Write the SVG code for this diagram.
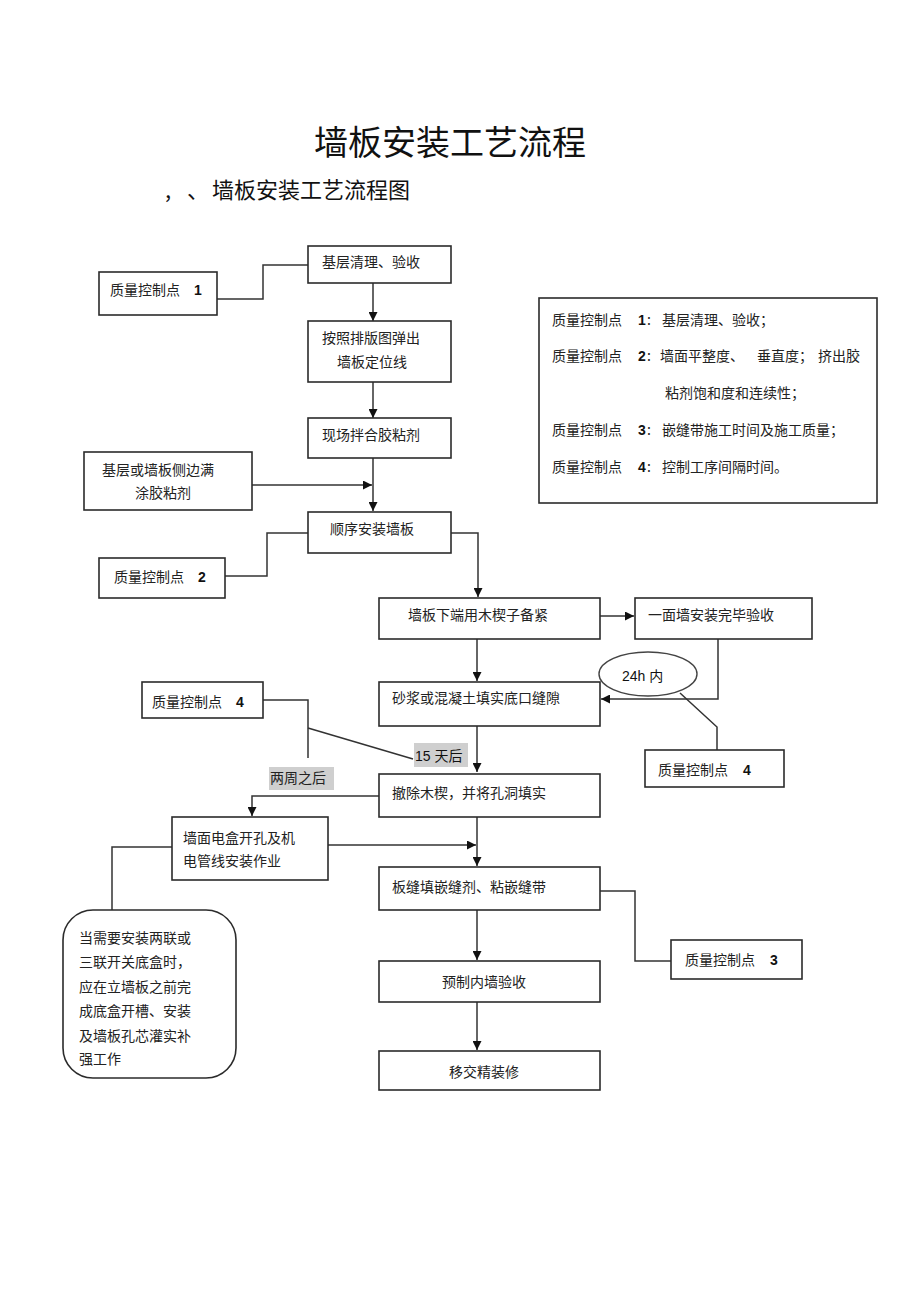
<svg xmlns="http://www.w3.org/2000/svg" width="920" height="1303" viewBox="0 0 920 1303">
<style>
.bx{fill:#fff;stroke:#2b2b2b;stroke-width:1.6}
.ln{fill:none;stroke:#333;stroke-width:1.5}
.t{font-family:"Noto Sans CJK SC","Noto Sans",sans-serif;font-size:14px;fill:#222}
.n{font-family:"Liberation Sans",Arial,sans-serif;font-size:14px;font-weight:bold;fill:#111}
.hl{fill:#cfcfcf}
</style>
<defs>
<marker id="ar" viewBox="0 0 10 10" refX="10" refY="5" markerWidth="9" markerHeight="9" markerUnits="userSpaceOnUse" orient="auto"><path d="M0,0L10,5L0,10z" fill="#111"/></marker>
</defs>
<rect width="920" height="1303" fill="#fff"/>
<text x="450" y="155" text-anchor="middle" font-family="Noto Sans CJK SC,sans-serif" font-size="34" fill="#111">墙板安装工艺流程</text>
<text x="165" y="198" font-family="Noto Sans CJK SC,sans-serif" font-size="22" fill="#111">,</text>
<text x="187" y="198" font-family="Noto Sans CJK SC,sans-serif" font-size="22" fill="#111">、</text>
<text x="212" y="198" font-family="Noto Sans CJK SC,sans-serif" font-size="22" fill="#111">墙板安装工艺流程图</text>

<g id="connectors">
<path class="ln" d="M217,299H263V265H308"/>
<path class="ln" d="M373,283V321" marker-end="url(#ar)"/>
<path class="ln" d="M373,382V418" marker-end="url(#ar)"/>
<path class="ln" d="M373,458V511" marker-end="url(#ar)"/>
<path class="ln" d="M252,485H372" marker-end="url(#ar)"/>
<path class="ln" d="M225,576H267V533H308"/>
<path class="ln" d="M451,533H478V597" marker-end="url(#ar)"/>
<path class="ln" d="M600,616H634" marker-end="url(#ar)"/>
<path class="ln" d="M477,639V681" marker-end="url(#ar)"/>
<path class="ln" d="M718,639V699H601" marker-end="url(#ar)"/>
<path class="ln" d="M680,693L717,727V750"/>
<path class="ln" d="M477,726V772" marker-end="url(#ar)"/>
<path class="ln" d="M263,700H308V758"/>
<path class="ln" d="M308,728L413,759"/>
<path class="ln" d="M379,796H252V816" marker-end="url(#ar)"/>
<path class="ln" d="M327,845H476" marker-end="url(#ar)"/>
<path class="ln" d="M477,817V866" marker-end="url(#ar)"/>
<path class="ln" d="M172,847H112V910"/>
<path class="ln" d="M600,891H635V961H671"/>
<path class="ln" d="M477,910V960" marker-end="url(#ar)"/>
<path class="ln" d="M477,1002V1050" marker-end="url(#ar)"/>
</g>

<g id="n1"><rect class="bx" x="308" y="246" width="143" height="37"/><text class="t" x="322" y="267">基层清理、验收</text></g>
<g id="qc1"><rect class="bx" x="99" y="272" width="118" height="43"/><text class="t" x="110" y="295">质量控制点</text><text class="n" x="194" y="295">1</text></g>
<g id="n2"><rect class="bx" x="308" y="321" width="143" height="61"/><text class="t" x="322" y="343">按照排版图弹出</text><text class="t" x="337" y="367">墙板定位线</text></g>
<g id="n3"><rect class="bx" x="308" y="418" width="143" height="40"/><text class="t" x="322" y="440">现场拌合胶粘剂</text></g>
<g id="side1"><rect class="bx" x="84" y="452" width="168" height="58"/><text class="t" x="102" y="475">基层或墙板侧边满</text><text class="t" x="135" y="498">涂胶粘剂</text></g>
<g id="n4"><rect class="bx" x="308" y="512" width="143" height="41"/><text class="t" x="330" y="534">顺序安装墙板</text></g>
<g id="qc2"><rect class="bx" x="99" y="558" width="126" height="40"/><text class="t" x="114" y="582">质量控制点</text><text class="n" x="198" y="582">2</text></g>
<g id="n5"><rect class="bx" x="379" y="598" width="221" height="41" stroke-width="2"/><text class="t" x="408" y="620">墙板下端用木楔子备紧</text></g>
<g id="n6"><rect class="bx" x="635" y="598" width="177" height="41"/><text class="t" x="648" y="620">一面墙安装完毕验收</text></g>
<g id="n7"><rect class="bx" x="379" y="682" width="221" height="44"/><text class="t" x="392" y="703">砂浆或混凝土填实底口缝隙</text></g>
<g id="e24"><ellipse cx="648" cy="674" rx="49" ry="22" fill="#fff" stroke="#444" stroke-width="1.4"/><text x="622" y="681" font-family="Liberation Sans,Noto Sans CJK SC,sans-serif" font-size="14" fill="#111">24h 内</text></g>
<g id="qc4r"><rect class="bx" x="645" y="750" width="139" height="37"/><text class="t" x="658" y="775">质量控制点</text><text class="n" x="743" y="775">4</text></g>
<g id="l15"><rect class="hl" x="414" y="743" width="54" height="24"/><text x="415" y="761" font-family="Liberation Sans,Noto Sans CJK SC,sans-serif" font-size="14" fill="#111">15 天后</text></g>
<g id="qc4l"><rect class="bx" x="142" y="682" width="121" height="36"/><text class="t" x="152" y="707">质量控制点</text><text class="n" x="236" y="707">4</text></g>
<g id="l2w"><rect class="hl" x="269" y="767" width="65" height="23"/><text class="t" x="270" y="783">两周之后</text></g>
<g id="n8"><rect class="bx" x="379" y="774" width="221" height="43" stroke-width="2"/><text class="t" x="392" y="798">撤除木楔，并将孔洞填实</text></g>
<g id="n9"><rect class="bx" x="172" y="817" width="156" height="63" stroke-width="2"/><text class="t" x="183" y="843">墙面电盒开孔及机</text><text class="t" x="183" y="866">电管线安装作业</text></g>
<g id="note"><rect class="bx" x="63" y="910" width="173" height="168" rx="30"/>
<text class="t" x="79" y="943">当需要安装两联或</text><text class="t" x="79" y="967">三联开关底盒时，</text><text class="t" x="79" y="992">应在立墙板之前完</text><text class="t" x="79" y="1016">成底盒开槽、安装</text><text class="t" x="79" y="1041">及墙板孔芯灌实补</text><text class="t" x="79" y="1064">强工作</text></g>
<g id="n10"><rect class="bx" x="379" y="867" width="221" height="43" stroke-width="2"/><text class="t" x="392" y="892">板缝填嵌缝剂、粘嵌缝带</text></g>
<g id="qc3"><rect class="bx" x="671" y="940" width="131" height="39"/><text class="t" x="685" y="965">质量控制点</text><text class="n" x="770" y="965">3</text></g>
<g id="n11"><rect class="bx" x="379" y="961" width="221" height="41"/><text class="t" x="442" y="987">预制内墙验收</text></g>
<g id="n12"><rect class="bx" x="379" y="1051" width="221" height="39" stroke-width="2"/><text class="t" x="449" y="1077">移交精装修</text></g>
<g id="legend"><rect class="bx" x="539" y="298" width="338" height="205"/>
<text class="t" x="552" y="325">质量控制点</text><text class="n" x="638" y="325">1</text><text class="t" x="647" y="325">:</text><text class="t" x="662" y="325">基层清理、验收；</text>
<text class="t" x="552" y="361">质量控制点</text><text class="n" x="638" y="361">2</text><text class="t" x="647" y="361">:</text><text class="t" x="660" y="361">墙面平整度、</text><text class="t" x="757" y="361">垂直度；</text><text class="t" x="818" y="361">挤出胶</text>
<text class="t" x="665" y="398">粘剂饱和度和连续性；</text>
<text class="t" x="552" y="435">质量控制点</text><text class="n" x="638" y="435">3</text><text class="t" x="647" y="435">:</text><text class="t" x="662" y="435">嵌缝带施工时间及施工质量；</text>
<text class="t" x="552" y="472">质量控制点</text><text class="n" x="638" y="472">4</text><text class="t" x="647" y="472">:</text><text class="t" x="662" y="472">控制工序间隔时间。</text>
</g>
</svg>
